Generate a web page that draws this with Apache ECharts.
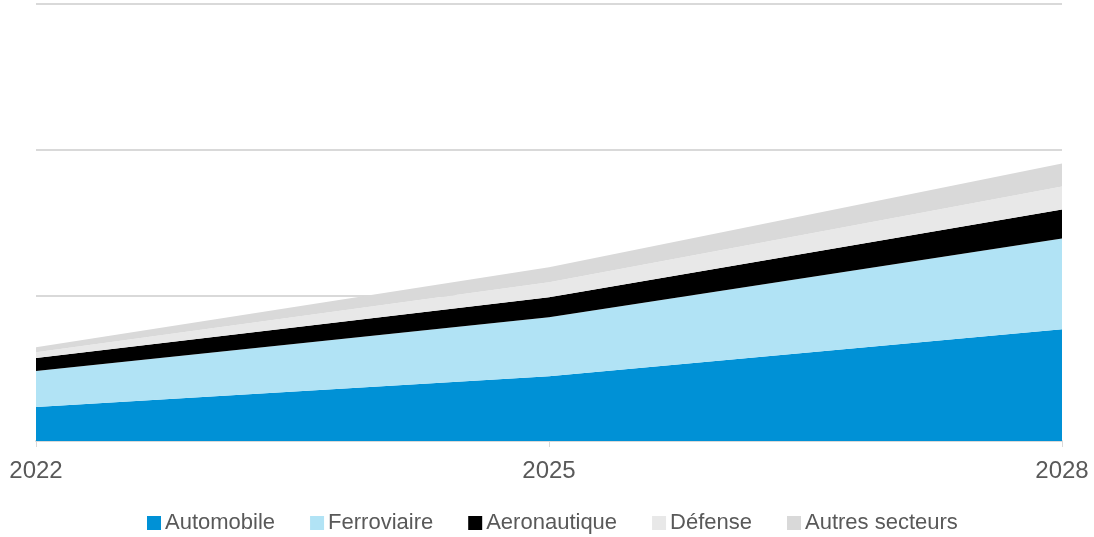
<!DOCTYPE html>
<html>
<head>
    <meta charset="utf-8">
    <title>ECharts</title>
    <script src="https://cdn.jsdelivr.net/npm/echarts@6/dist/echarts.min.js"></script>
    <style>
        html, body { margin: 0; padding: 0; background: #fff; }
        #main { width: 1094px; height: 537px; }
    </style>
</head>
<body>
<div id="main"></div>
<script type="text/javascript">
    var years = ['2022', '2025', '2028'];
    var automobile = [23.3, 44.5, 76.7];
    var ferroviaire = [24.7, 40.4, 62.3];
    var aeronautique = [8.9, 13.7, 19.9];
    var defense = [4.1, 10.3, 15.8];
    var autres = [3.4, 10.3, 15.8];

    var chart = echarts.init(document.getElementById('main'));

    function area(name, data, color) {
        return {
            name: name,
            type: 'line',
            stack: 'total',
            data: data,
            showSymbol: false,
            lineStyle: {width: 0},
            areaStyle: {color: color, opacity: 1},
            itemStyle: {color: color},
            emphasis: {disabled: true}
        };
    }

    var option = {
        animation: false,
        textStyle: {fontFamily: 'Liberation Sans, Arial, sans-serif'},
        grid: {left: 36, right: 32, top: 4, bottom: 96},
        legend: {
            top: 507,
            left: 142,
            itemWidth: 14,
            itemHeight: 14,
            itemGap: 35,
            icon: 'rect',
            textStyle: {color: '#595959', fontSize: 22, padding: [0, 0, 0, -1]}
        },
        xAxis: {
            type: 'category',
            data: years,
            boundaryGap: false,
            axisLine: {lineStyle: {color: '#d9d9d9', width: 2}},
            axisTick: {show: true, length: 6, lineStyle: {color: '#d9d9d9', width: 1}},
            axisLabel: {color: '#595959', fontSize: 24, margin: 18}
        },
        yAxis: {
            type: 'value',
            min: 0,
            max: 300,
            interval: 100,
            axisLabel: {show: false},
            axisLine: {show: false},
            axisTick: {show: false},
            splitLine: {lineStyle: {color: '#d9d9d9', width: 2}}
        },
        series: [
            area('Automobile', automobile, '#0091d6'),
            area('Ferroviaire', ferroviaire, '#b1e3f5'),
            area('Aeronautique', aeronautique, '#000000'),
            area('Défense', defense, '#e8e8e8'),
            area('Autres secteurs', autres, '#d9d9d9')
        ]
    };

    chart.setOption(option);
</script>
</body>
</html>
